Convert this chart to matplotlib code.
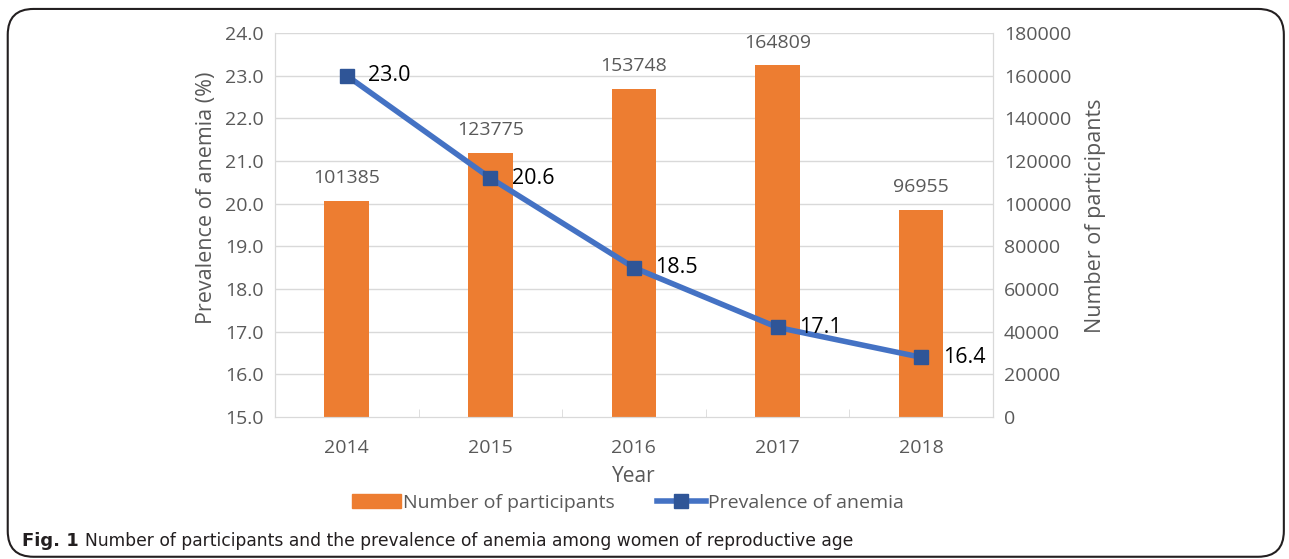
import matplotlib
matplotlib.use('Agg')
import numpy as np
from matplotlib import pyplot as plt
from matplotlib.patches import FancyBboxPatch, Patch
from matplotlib.lines import Line2D

# data
years = ['2014', '2015', '2016', '2017', '2018']
participants = [101385, 123775, 153748, 164809, 96955]
prevalence = [23.0, 20.6, 18.5, 17.1, 16.4]
left_ticks = [15.0, 16.0, 17.0, 18.0, 19.0, 20.0, 21.0, 22.0, 23.0, 24.0]
right_ticks = [0, 20000, 40000, 60000, 80000, 100000, 120000, 140000, 160000, 180000]

plt.rcParams['font.family'] = ['Open Sans', 'DejaVu Sans']
grey = '#595959'
grid_c = '#D9D9D9'
bar_c = '#ED7D31'
line_c = '#4472C4'
mark_c = '#2F5597'

fig = plt.figure(figsize=(12.89, 5.59), dpi=100)
ax = fig.add_axes([0.2133, 0.254, 0.557, 0.687])
ax2 = ax.twinx()

x = np.arange(len(years))

# bars on the secondary (right) axis
ax2.bar(x, participants, width=0.31, color=bar_c, zorder=2)
for xi, v in zip(x, participants):
    ax2.text(xi, v + 6500, str(v), ha='center', va='bottom', fontsize=14, color=grey)
ax2.set_ylim(0, 180000)
ax2.set_yticks(right_ticks)
ax2.set_yticklabels([str(t) for t in right_ticks], fontsize=14, color=grey)
ax2.set_ylabel('Number of participants', fontsize=15.5, color=grey, labelpad=10)
ax2.yaxis.label.set_y(0.525)
ax2.tick_params(axis='y', length=0, pad=8)

# line on the primary (left) axis, drawn above the bars
ax.set_zorder(ax2.get_zorder() + 1)
ax.patch.set_visible(False)
ax.plot(x, prevalence, color=line_c, lw=4, marker='s', ms=10,
        mfc=mark_c, mec=mark_c, zorder=3)
for xi, v in zip(x, prevalence):
    ax.text(xi + 0.15, v, '%.1f' % v, ha='left', va='center', fontsize=15.5, color='black')
ax.set_ylim(15.0, 24.0)
ax.set_xlim(-0.5, 4.5)
ax.set_yticks(left_ticks)
ax.set_yticklabels(['%.1f' % t for t in left_ticks], fontsize=14, color=grey)
ax.set_ylabel('Prevalence of anemia (%)', fontsize=15.5, color=grey, labelpad=6)
ax.yaxis.label.set_y(0.57)
ax.set_xticks(x)
ax.set_xticklabels(years, fontsize=14, color=grey)
ax.set_xticks(np.arange(-0.5, 5, 1.0), minor=True)
ax.tick_params(axis='x', which='major', length=0, pad=16)
ax.tick_params(axis='x', which='minor', length=6, direction='in', color=grid_c)
ax.tick_params(axis='y', length=0, pad=8)
ax.set_xlabel('Year', fontsize=15, color=grey, labelpad=6)

# horizontal gridlines behind everything
for t in left_ticks[1:]:
    ax2.axhline((t - 15.0) / 9.0 * 180000, color=grid_c, lw=1, zorder=0)

for a in (ax, ax2):
    for s in a.spines.values():
        s.set_color(grid_c)
    a.spines['top'].set_visible(False)

# legend
handles = [Patch(color=bar_c, label='Number of participants'),
           Line2D([], [], color=line_c, lw=4, marker='s', ms=10, mfc=mark_c, mec=mark_c,
                  label='Prevalence of anemia')]
fig.legend(handles=handles, loc='center', bbox_to_anchor=(0.487, 0.101), ncol=2, frameon=False,
           fontsize=14, handlelength=2.5, handletextpad=0.1, columnspacing=2.2,
           labelcolor=grey)

# caption
fig.text(0.017, 0.032, 'Fig. 1', fontsize=13, fontweight='bold', color='#231F20',
         family=['Liberation Sans Narrow', 'DejaVu Sans'], va='center')
fig.text(0.066, 0.032, 'Number of participants and the prevalence of anemia among women of reproductive age',
         fontsize=12.3, color='#231F20', family=['Liberation Sans Narrow', 'DejaVu Sans'], va='center')

# rounded frame around the figure
frame = FancyBboxPatch((0.006, 0.004), 0.99, 0.98, boxstyle='round,pad=0,rounding_size=0.02',
                       transform=fig.transFigure, fill=False, ec='#231F20', lw=1.5,
                       mutation_aspect=1289 / 559)
fig.patches.append(frame)

fig.savefig('out.png', dpi=100)
